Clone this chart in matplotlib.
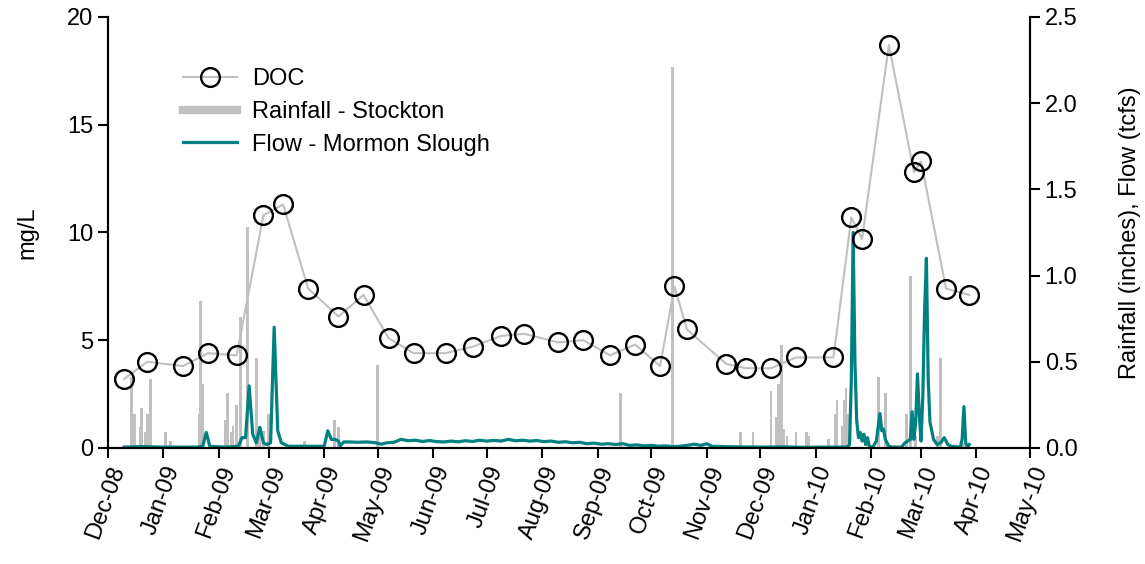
import matplotlib
matplotlib.use("Agg")
import matplotlib.pyplot as plt
import matplotlib.dates as mdates
from matplotlib.lines import Line2D
import pandas as pd

plt.rcParams['font.family'] = ['Liberation Sans', 'DejaVu Sans']

# DOC grab samples (mg/L)
doc_dates = ['2008-12-10', '2008-12-23', '2009-01-12', '2009-01-26', '2009-02-11',
             '2009-02-26', '2009-03-09', '2009-03-23', '2009-04-09', '2009-04-23',
             '2009-05-07', '2009-05-21', '2009-06-08', '2009-06-23', '2009-07-09',
             '2009-07-22', '2009-08-10', '2009-08-24', '2009-09-08', '2009-09-22',
             '2009-10-06', '2009-10-14', '2009-10-21', '2009-11-12', '2009-11-23',
             '2009-12-07', '2009-12-21', '2010-01-11', '2010-01-21', '2010-01-27',
             '2010-02-11', '2010-02-25', '2010-03-01', '2010-03-15', '2010-03-28']
doc_vals = [3.2, 4.0, 3.8, 4.4, 4.3,
            10.8, 11.3, 7.4, 6.1, 7.1,
            5.1, 4.4, 4.4, 4.7, 5.2,
            5.3, 4.9, 5.0, 4.3, 4.8,
            3.8, 7.5, 5.5, 3.9, 3.7,
            3.7, 4.2, 4.2, 10.7, 9.7,
            18.7, 12.8, 13.3, 7.4, 7.1]

# daily rainfall at Stockton (inches)
rain_dates = ['2008-12-14', '2008-12-15', '2008-12-16', '2008-12-19', '2008-12-20',
              '2008-12-22', '2008-12-23', '2008-12-25', '2009-01-02', '2009-01-05',
              '2009-01-21', '2009-01-22', '2009-01-23', '2009-02-05', '2009-02-06',
              '2009-02-08', '2009-02-09', '2009-02-11', '2009-02-13', '2009-02-17',
              '2009-02-22', '2009-02-24', '2009-02-26', '2009-03-01', '2009-03-21',
              '2009-04-07', '2009-04-09', '2009-05-01', '2009-09-14', '2009-10-13',
              '2009-11-20', '2009-11-27', '2009-12-07', '2009-12-10', '2009-12-11',
              '2009-12-13', '2009-12-14', '2009-12-16', '2009-12-21', '2009-12-27',
              '2009-12-28', '2010-01-08', '2010-01-12', '2010-01-13', '2010-01-16',
              '2010-01-17', '2010-01-18', '2010-01-19', '2010-02-05', '2010-02-09',
              '2010-02-21', '2010-02-23', '2010-02-26', '2010-03-10', '2010-03-12',
              '2010-03-25']
rain_vals = [0.41, 0.16, 0.20, 0.12, 0.23,
             0.09, 0.20, 0.40, 0.09, 0.04,
             0.20, 0.85, 0.37, 0.16, 0.32,
             0.09, 0.13, 0.25, 0.76, 1.28,
             0.52, 0.10, 0.10, 0.20, 0.04,
             0.16, 0.12, 0.48, 0.32, 2.21,
             0.09, 0.09, 0.33, 0.18, 0.37,
             0.60, 0.11, 0.07, 0.09, 0.09,
             0.07, 0.05, 0.20, 0.28, 0.13,
             0.28, 0.35, 0.20, 0.41, 0.32,
             0.20, 1.00, 0.07, 0.07, 0.52,
             0.03]

# Mormon Slough flow (thousand cfs)
flow_dates = ['2008-12-10', '2008-12-20', '2009-01-01', '2009-01-20', '2009-01-23',
              '2009-01-25', '2009-01-27', '2009-02-05', '2009-02-12', '2009-02-14',
              '2009-02-16', '2009-02-18', '2009-02-20', '2009-02-22', '2009-02-24',
              '2009-02-26', '2009-02-28', '2009-03-02', '2009-03-04', '2009-03-06',
              '2009-03-08', '2009-03-12', '2009-04-01', '2009-04-03', '2009-04-05',
              '2009-04-07', '2009-04-09', '2009-04-10', '2009-04-12', '2009-04-15',
              '2009-04-20', '2009-04-25', '2009-04-30', '2009-05-03', '2009-05-06',
              '2009-05-10', '2009-05-14', '2009-05-18', '2009-05-22', '2009-05-26',
              '2009-05-30', '2009-06-03', '2009-06-07', '2009-06-11', '2009-06-15',
              '2009-06-19', '2009-06-23', '2009-06-27', '2009-07-01', '2009-07-05',
              '2009-07-09', '2009-07-13', '2009-07-17', '2009-07-21', '2009-07-25',
              '2009-07-29', '2009-08-02', '2009-08-06', '2009-08-10', '2009-08-14',
              '2009-08-18', '2009-08-22', '2009-08-26', '2009-08-30', '2009-09-03',
              '2009-09-07', '2009-09-11', '2009-09-15', '2009-09-19', '2009-09-23',
              '2009-09-27', '2009-10-01', '2009-10-05', '2009-10-09', '2009-10-13',
              '2009-10-17', '2009-10-21', '2009-10-25', '2009-10-29', '2009-11-01',
              '2009-11-04', '2009-11-10', '2009-11-20', '2009-12-01', '2009-12-15',
              '2009-12-25', '2010-01-05', '2010-01-15', '2010-01-19', '2010-01-20',
              '2010-01-21', '2010-01-22', '2010-01-23', '2010-01-24', '2010-01-25',
              '2010-01-26', '2010-01-27', '2010-01-28', '2010-01-29', '2010-01-30',
              '2010-01-31', '2010-02-02', '2010-02-04', '2010-02-06', '2010-02-07',
              '2010-02-08', '2010-02-09', '2010-02-11', '2010-02-13', '2010-02-18',
              '2010-02-20', '2010-02-23', '2010-02-24', '2010-02-25', '2010-02-26',
              '2010-02-27', '2010-02-28', '2010-03-01', '2010-03-02', '2010-03-03',
              '2010-03-04', '2010-03-05', '2010-03-06', '2010-03-08', '2010-03-10',
              '2010-03-12', '2010-03-14', '2010-03-16', '2010-03-18', '2010-03-23',
              '2010-03-24', '2010-03-25', '2010-03-26', '2010-03-27', '2010-03-28']
flow_vals = [0.005, 0.008, 0.005, 0.005, 0.01,
             0.09, 0.01, 0.005, 0.01, 0.06,
             0.06, 0.36, 0.08, 0.03, 0.12,
             0.03, 0.02, 0.03, 0.70, 0.10,
             0.03, 0.01, 0.01, 0.10, 0.05,
             0.05, 0.04, 0.013, 0.035, 0.035,
             0.033, 0.035, 0.03, 0.022, 0.03,
             0.033, 0.05, 0.042, 0.045, 0.038,
             0.043, 0.037, 0.035, 0.04, 0.036,
             0.042, 0.038, 0.045, 0.04, 0.044,
             0.04, 0.05, 0.042, 0.045, 0.04,
             0.043, 0.037, 0.04, 0.033, 0.036,
             0.03, 0.033, 0.025, 0.028, 0.022,
             0.025, 0.02, 0.025, 0.015, 0.018,
             0.012, 0.015, 0.01, 0.012, 0.008,
             0.01, 0.015, 0.022, 0.015, 0.025,
             0.01, 0.008, 0.006, 0.005, 0.006,
             0.004, 0.005, 0.005, 0.006, 0.02,
             0.40, 1.25, 0.50, 0.16, 0.06,
             0.09, 0.04, 0.08, 0.02, 0.06,
             0.01, 0.005, 0.04, 0.20, 0.10,
             0.11, 0.05, 0.01, 0.005, 0.005,
             0.03, 0.05, 0.21, 0.05, 0.15,
             0.43, 0.20, 0.04, 0.30, 0.80,
             1.10, 0.40, 0.15, 0.05, 0.02,
             0.03, 0.06, 0.02, 0.01, 0.005,
             0.05, 0.24, 0.03, 0.005, 0.02]

doc_x = pd.to_datetime(doc_dates)
rain_x = pd.to_datetime(rain_dates)
flow_x = pd.to_datetime(flow_dates)

gray = '#C0C0C0'
teal = '#008080'
fs = 17

fig = plt.figure(figsize=(11.45, 5.64), dpi=100)
ax = fig.add_axes([0.0943, 0.2057, 0.8053, 0.7642])
ax2 = ax.twinx()

ax2.bar(rain_x, rain_vals, width=1.6, color=gray, linewidth=0, zorder=1)
ax2.plot(flow_x, flow_vals, color=teal, lw=2.3, zorder=2)
ax2.set_ylim(0, 2.5)
ax2.set_yticks([0.0, 0.5, 1.0, 1.5, 2.0, 2.5])
ax2.set_yticklabels(['%.1f' % v for v in ax2.get_yticks()])
ax2.set_ylabel('Rainfall (inches), Flow (tcfs)', fontsize=fs, labelpad=30)

# DOC on top of the rain/flow layer
ax.set_zorder(ax2.get_zorder() + 1)
ax.patch.set_visible(False)
doc_style = dict(color=gray, lw=1.5, marker='o', markersize=13.5,
                 markerfacecolor='none', markeredgecolor='black', markeredgewidth=1.7)
ax.plot(doc_x, doc_vals, **doc_style)
ax.set_ylim(0, 20)
ax.set_yticks([0, 5, 10, 15, 20])
ax.set_ylabel('mg/L', fontsize=fs, labelpad=21)

ax.set_xlim(pd.Timestamp('2008-12-01'), pd.Timestamp('2010-05-01'))
ax.xaxis.set_major_locator(mdates.MonthLocator())
ax.xaxis.set_major_formatter(mdates.DateFormatter('%b-%y'))
for lbl in ax.get_xticklabels():
    lbl.set_rotation(70)
    lbl.set_ha('right')
    lbl.set_rotation_mode('anchor')

for a in (ax, ax2):
    a.spines['top'].set_visible(False)
    for s in a.spines.values():
        s.set_linewidth(1.5)
    a.tick_params(labelsize=fs, width=1.5, length=7, direction='out')

handles = [
    Line2D([], [], **doc_style),
    Line2D([], [], color=gray, lw=6),
    Line2D([], [], color=teal, lw=2.3),
]
ax.legend(handles, ['DOC', 'Rainfall - Stockton', 'Flow - Mormon Slough'],
          loc='upper left', bbox_to_anchor=(0.081, 0.881), frameon=False,
          borderpad=0, borderaxespad=0,
          fontsize=fs, handlelength=2.3, labelspacing=0.45, handletextpad=0.65)

fig.savefig('out.png', dpi=100)
